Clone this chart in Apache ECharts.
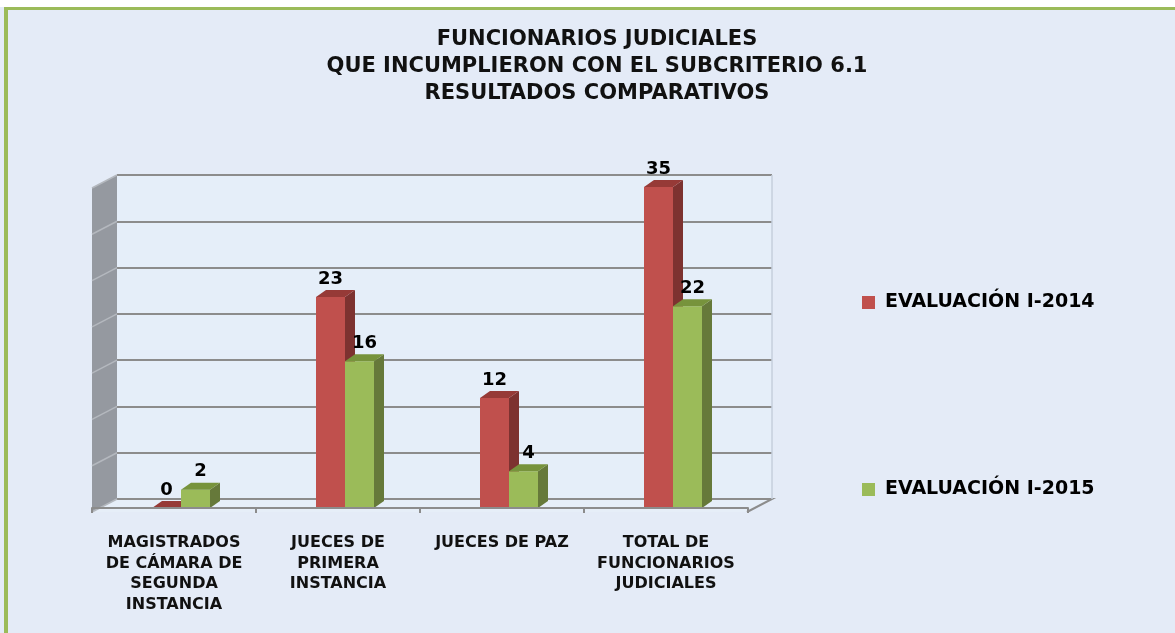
<!DOCTYPE html>
<html>
<head>
<meta charset="utf-8">
<script src="https://cdn.jsdelivr.net/npm/echarts@6/dist/echarts.min.js"></script>
<style>
  html, body { margin: 0; padding: 0; background: #fff; }
  #chart { width: 1175px; height: 633px; }
</style>
</head>
<body>
<div id="chart"></div>
<script>
// datos del grafico
const categories = [
  "MAGISTRADOS\nDE CÁMARA DE\nSEGUNDA\nINSTANCIA",
  "JUECES DE\nPRIMERA\nINSTANCIA",
  "JUECES DE PAZ",
  "TOTAL DE\nFUNCIONARIOS\nJUDICIALES",
];
const eval2014 = [0, 23, 12, 35];
const eval2015 = [2, 16, 4, 22];
const seriesNames = ["EVALUACIÓN I-2014", "EVALUACIÓN I-2015"];
const yMax = 35;
const yStep = 5;

const FONT = "DejaVu Sans";
const DX = 10, DY = -7; // profundidad de las barras
const WALL_DX = -25, WALL_DY = 13; // profundidad del piso / pared

let chart = echarts.init(document.getElementById("chart"));

function bar3d(offsetX, labelShift, front, side, topc) {
  return function (params, api) {
    let c = api.value(0);
    let v = api.value(1);
    let base = api.coord([c, 0]);
    let top = api.coord([c, v]);
    let w = 29;
    let x0 = base[0] + offsetX;
    let yb = base[1];
    let yt = top[1];
    let children = [];
    if (v > 0) {
      children.push({
        type: "rect",
        shape: { x: x0, y: yt, width: w, height: yb - yt },
        style: { fill: front },
      });
      children.push({
        type: "polygon",
        shape: { points: [[x0 + w, yt], [x0 + w + DX, yt + DY], [x0 + w + DX, yb + DY], [x0 + w, yb]] },
        style: { fill: side },
      });
    }
    children.push({
      type: "polygon",
      shape: { points: [[x0, yt], [x0 + w, yt], [x0 + w + DX, yt + DY], [x0 + DX, yt + DY]] },
      style: { fill: topc },
    });
    children.push({
      type: "text",
      style: {
        text: String(v),
        x: x0 + w / 2 + labelShift,
        y: yt + DY - 2,
        align: "center",
        verticalAlign: "bottom",
        fontFamily: FONT,
        fontWeight: "bold",
        fontSize: 18,
        fill: "#000",
      },
    });
    return { type: "group", children: children };
  };
}

function renderWall(params, api) {
  let bl = api.coord([0, 0]);
  let tr = api.coord([4, yMax]);
  let tl = [bl[0], tr[1]];
  let br = [tr[0], bl[1]];
  let children = [];
  // piso
  children.push({
    type: "polygon",
    shape: { points: [bl, br, [br[0] + WALL_DX, br[1] + WALL_DY], [bl[0] + WALL_DX, bl[1] + WALL_DY]] },
    style: { fill: "#E6EEF8", stroke: null },
  });
  children.push({
    type: "polyline",
    shape: { points: [bl, br, [br[0] + WALL_DX, br[1] + WALL_DY]] },
    style: { stroke: "#8C8C8C", lineWidth: 2, fill: null },
  });
  // pared izquierda
  children.push({
    type: "polygon",
    shape: { points: [tl, bl, [bl[0] + WALL_DX, bl[1] + WALL_DY], [tl[0] + WALL_DX, tl[1] + WALL_DY]] },
    style: { fill: "#9599A0" },
  });
  for (let v = 0; v <= yMax; v += yStep) {
    let p = api.coord([0, v]);
    children.push({
      type: "line",
      shape: { x1: p[0], y1: p[1], x2: p[0] + WALL_DX, y2: p[1] + WALL_DY },
      style: { stroke: "#B4B8BE", lineWidth: 1.5 },
    });
  }
  // borde derecho de la pared del fondo
  children.push({
    type: "line",
    shape: { x1: tr[0], y1: tr[1], x2: br[0], y2: br[1] },
    style: { stroke: "#C6CFDC", lineWidth: 1.5 },
  });
  return { type: "group", children: children };
}

let option = {
  backgroundColor: "#E4EBF7",
  animation: false,
  graphic: [
    { type: "rect", shape: { x: 0, y: 0, width: 1175, height: 7 }, style: { fill: "#fff" } },
    { type: "rect", shape: { x: 4, y: 7, width: 1171, height: 3 }, style: { fill: "#9BBB59" } },
    { type: "rect", shape: { x: 4, y: 7, width: 4, height: 626 }, style: { fill: "#9BBB59" } },
  ],
  title: {
    text: "FUNCIONARIOS JUDICIALES\nQUE INCUMPLIERON CON EL SUBCRITERIO 6.1\nRESULTADOS COMPARATIVOS",
    left: 592,
    top: 21,
    textAlign: "center",
    textStyle: {
      fontFamily: FONT,
      fontWeight: "bold",
      fontSize: 21,
      lineHeight: 27,
      color: "#111",
    },
  },
  legend: {
    orient: "vertical",
    left: 857,
    top: 288,
    itemWidth: 13,
    itemHeight: 13,
    itemGap: 168,
    icon: "rect",
    data: seriesNames,
    textStyle: {
      fontFamily: FONT,
      fontWeight: "bold",
      fontSize: 19,
      lineHeight: 18,
      color: "#000",
      padding: [0, 0, 0, 5],
    },
  },
  grid: [
    // pared del fondo
    { left: 117, right: 403, top: 175, bottom: 134, show: true, backgroundColor: "#E5EEF9", borderWidth: 0 },
    // frente de las barras
    { left: 92, right: 427, top: 187, bottom: 125 },
  ],
  xAxis: [
    { gridIndex: 0, type: "value", min: 0, max: 4, show: false },
    {
      gridIndex: 1,
      type: "category",
      data: categories,
      offset: 4,
      z: 5,
      axisLine: { lineStyle: { color: "#8C8C8C", width: 2 } },
      axisTick: { show: true, length: 5, lineStyle: { color: "#8C8C8C", width: 2 } },
      axisLabel: {
        interval: 0,
        margin: 21,
        fontFamily: FONT,
        fontWeight: "bold",
        fontSize: 16,
        lineHeight: 20.5,
        color: "#111",
      },
    },
  ],
  yAxis: [
    {
      gridIndex: 0,
      type: "value",
      min: 0,
      max: yMax,
      interval: yStep,
      axisLine: { show: false },
      axisTick: { show: false },
      axisLabel: { show: false },
      splitLine: { lineStyle: { color: "#8C8C8C", width: 2 } },
    },
    { gridIndex: 1, type: "value", min: 0, max: yMax, interval: yStep, show: false, splitLine: { show: false } },
  ],
  series: [
    {
      type: "custom",
      name: "pared",
      xAxisIndex: 0,
      yAxisIndex: 0,
      silent: true,
      z: 1,
      data: [[0, 0]],
      renderItem: renderWall,
    },
    {
      type: "custom",
      name: seriesNames[0],
      xAxisIndex: 1,
      yAxisIndex: 1,
      z: 3,
      itemStyle: { color: "#C0504D" },
      data: eval2014.map((v, i) => [i, v]),
      encode: { x: 0, y: 1 },
      renderItem: bar3d(-22, 0, "#C0504D", "#7D3230", "#963A37"),
    },
    {
      type: "custom",
      name: seriesNames[1],
      xAxisIndex: 1,
      yAxisIndex: 1,
      z: 4,
      itemStyle: { color: "#9BBB59" },
      data: eval2015.map((v, i) => [i, v]),
      encode: { x: 0, y: 1 },
      renderItem: bar3d(7, 5, "#9BBB59", "#66793A", "#77933C"),
    },
  ],
};
chart.setOption(option);
window.addEventListener("resize", () => {
  chart.resize();
});
</script>
</body>
</html>
